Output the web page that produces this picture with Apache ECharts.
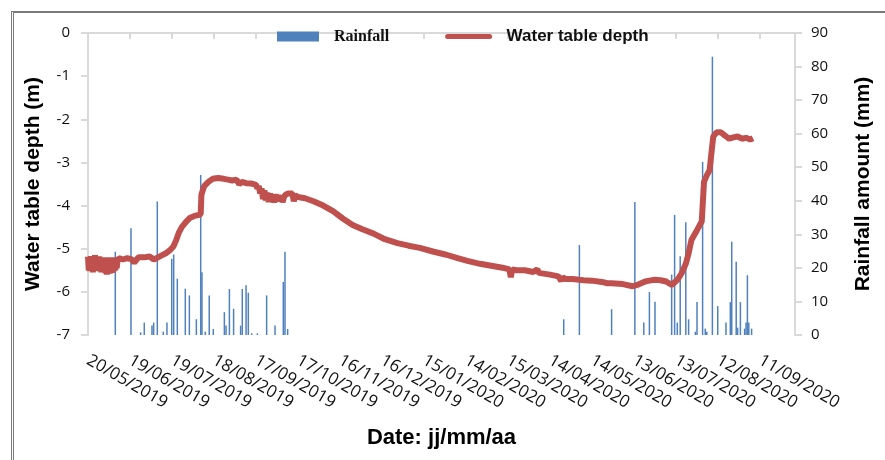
<!DOCTYPE html>
<html>
<head>
<meta charset="utf-8">
<script src="https://cdn.jsdelivr.net/npm/echarts@6/dist/echarts.min.js"></script>
<style>
body{margin:0;background:#fff;}
#frame{position:absolute;left:11px;top:11px;width:900px;height:470px;border-top:2px solid #7a7a7a;border-left:3px double #7a7a7a;}
#chart{position:absolute;left:0;top:0;width:885px;height:460px;}
</style>
</head>
<body>
<div id="frame"></div>
<div id="chart"></div>
<script>
// days counted from 20/05/2019
var tickDays = [0, 30, 60, 90, 120, 150, 180, 210, 240, 270, 300, 330, 360, 390, 420, 450, 480];

// water table depth (m)
var depthDays = [
  0, 0.5, 1, 1.5, 2, 2.5, 3, 3.5, 4, 4.5, 5, 5.5, 6, 6.5, 7, 7.5, 8, 8.5, 9, 9.5,
  10, 10.5, 11, 11.5, 12, 12.5, 13, 13.5, 14, 14.5, 15, 15.5, 16, 16.5, 17, 17.5, 18, 18.5, 19, 19.5,
  20, 20.5, 21, 22, 25, 28, 31, 33, 36, 40, 44, 47, 50, 53, 56, 59, 61, 63, 65, 67, 70, 73, 76, 79, 80.5,
  81, 83, 86, 89, 93, 97, 100, 103, 106, 108, 110, 113, 117, 120, 121, 122, 123, 124, 125, 126, 127, 128,
  129, 130, 131, 132, 133, 134, 135, 136, 137, 138, 139, 140, 141, 143, 146, 147, 148, 150, 155, 161, 168,
  175, 182, 189, 196, 204, 212, 221, 229, 237, 247, 256, 264, 271, 280, 289, 296, 301, 302, 303, 304, 306,
  312, 318, 321, 322, 323, 330, 336, 338, 339, 341, 346, 351, 354, 360, 367, 371, 374, 382, 389, 393,
  398, 401, 405, 409, 413, 417, 421, 424, 427, 429, 431, 435, 438.4, 440, 442, 444, 446.6, 449, 452,
  455, 458, 461, 464, 467, 470, 473, 475
];
var depthValues = [
  -5.18, -5.5, -5.2, -5.52, -5.17, -5.48, -5.22, -5.55, -5.2, -5.5, -5.15, -5.47, -5.2, -5.5, -5.22, -5.52, -5.18, -5.5, -5.2, -5.55,
  -5.22, -5.5, -5.2, -5.55, -5.23, -5.57, -5.2, -5.6, -5.25, -5.55, -5.22, -5.58, -5.2, -5.55, -5.24, -5.56, -5.2, -5.52, -5.22, -5.5,
  -5.2, -5.45, -5.3, -5.22, -5.25, -5.22, -5.24, -5.32, -5.2, -5.2, -5.18, -5.25, -5.2, -5.15, -5.1, -5.02, -4.95, -4.8, -4.62, -4.5, -4.38, -4.28, -4.24, -4.22, -4.2,
  -3.75, -3.55, -3.45, -3.38, -3.36, -3.38, -3.4, -3.42, -3.4, -3.5, -3.45, -3.48, -3.49, -3.52, -3.6, -3.55, -3.72, -3.6, -3.85, -3.65, -3.88, -3.7,
  -3.92, -3.72, -3.9, -3.75, -3.93, -3.74, -3.88, -3.76, -3.9, -3.78, -3.92, -3.8, -3.75, -3.72, -3.72, -3.9, -3.76, -3.8, -3.83, -3.9, -4.0,
  -4.13, -4.3, -4.45, -4.55, -4.65, -4.78, -4.87, -4.93, -4.98, -5.07, -5.14, -5.22, -5.28, -5.35, -5.4, -5.44, -5.48, -5.66, -5.48, -5.45, -5.5,
  -5.5, -5.54, -5.48, -5.56, -5.58, -5.6, -5.64, -5.75, -5.66, -5.7, -5.7, -5.72, -5.73, -5.74, -5.77, -5.8, -5.8, -5.82, -5.87, -5.83,
  -5.76, -5.74, -5.72, -5.73, -5.76, -5.84, -5.72, -5.57, -5.35, -5.11, -4.8, -4.57, -4.37, -3.45, -3.3, -3.18, -2.4, -2.3, -2.3,
  -2.38, -2.45, -2.42, -2.4, -2.45, -2.43, -2.47, -2.44
];

// rainfall (mm)
var rainDays = [
  19.5, 30.7, 37.6, 40.2, 45.7, 46.9, 49.5, 53.8, 56.4, 59.8, 61.2, 63.8, 69.5, 72.4, 77.4, 80.5, 81.4, 83.8,
  86.6, 89.5, 97.4, 98.6, 101, 104, 109, 110.2, 112.9, 114.5, 117, 121, 127.6, 133.6, 139.5, 140.7, 142.6,
  339.8, 351, 374, 390.6, 397, 401, 405, 416.9, 419, 420.9, 423, 427, 429, 433.8, 435, 439, 440.9, 442,
  446, 449.8, 455.7, 458.8, 459.8, 463, 464, 466, 469, 470, 471, 472, 474
];
var rainValues = [
  24.8, 31.8, 0.8, 3.7, 2.8, 3.7, 39.8, 1, 3.7, 22.7, 24, 16.8, 13.8, 11.8, 4.7, 47.7, 18.7, 1,
  11.8, 1.8, 6.8, 2.8, 13.7, 7.8, 2.8, 13.7, 14.8, 12.6, 0.5, 0.5, 11.8, 2.8, 15.8, 24.8, 1.8,
  4.7, 26.8, 7.7, 39.6, 3.7, 12.8, 9.9, 18, 35.8, 3.7, 23.5, 33.6, 4.7, 1, 9.8, 51.6, 1.9, 1,
  82.9, 8.6, 3.7, 9.8, 27.8, 21.8, 2.2, 9.8, 1.9, 3.7, 17.8, 3.7, 1.9
];

var startDate = Date.UTC(2019, 4, 20);
function dayLabel(d) {
  var dt = new Date(startDate + d * 86400000);
  var dd = String(dt.getUTCDate()).padStart(2, '0');
  var mm = String(dt.getUTCMonth() + 1).padStart(2, '0');
  return dd + '/' + mm + '/' + dt.getUTCFullYear();
}

var depthData = depthDays.map(function (d, i) { return [d, depthValues[i]]; });
var rainData = rainDays.map(function (d, i) { return [d, rainValues[i]]; });

var axisGray = '#d9d9d9';
var myChart = echarts.init(document.getElementById('chart'));
var option = {
  animation: false,
  grid: {left: 88, right: 90, top: 33, bottom: 125, containLabel: false},
  legend: {
    left: 272,
    top: 23,
    itemWidth: 42,
    itemHeight: 10,
    itemGap: 56,
    data: [
      {name: 'Rainfall', icon: 'rect'},
      {name: 'Water table depth', itemStyle: {opacity: 0}, lineStyle: {width: 5, cap: 'round'}}
    ],
    formatter: function (name) {
      return name === 'Rainfall' ? '{r|' + name + '}' : '{w|' + name + '}';
    },
    textStyle: {
      rich: {
        r: {fontFamily: 'Liberation Serif', fontWeight: 'bold', fontSize: 16, color: '#111', padding: [0, 0, 0, 10]},
        w: {fontFamily: 'Liberation Sans', fontWeight: 'bold', fontSize: 17, color: '#111', padding: [0, 0, 0, 12]}
      }
    }
  },
  xAxis: {
    type: 'value',
    min: 0,
    max: 505,
    interval: 30,
    name: 'Date: jj/mm/aa',
    nameLocation: 'middle',
    nameGap: 92,
    nameTextStyle: {fontFamily: 'Liberation Sans', fontWeight: 'bold', fontSize: 22, color: '#000'},
    splitLine: {show: false},
    axisLine: {lineStyle: {color: axisGray, width: 2}},
    axisTick: {customValues: tickDays, length: 6, lineStyle: {color: axisGray, width: 2}},
    axisLabel: {
      customValues: tickDays,
      rotate: -30,
      margin: 24,
      fontFamily: 'Open Sans',
      fontSize: 17,
      color: '#111',
      formatter: function (v) { return dayLabel(v); }
    }
  },
  yAxis: [
    {
      type: 'value',
      min: -7,
      max: 0,
      interval: 1,
      name: 'Water table depth (m)',
      nameLocation: 'middle',
      nameRotate: 90,
      nameGap: 44,
      nameTextStyle: {fontFamily: 'Liberation Sans', fontWeight: 'bold', fontSize: 21, color: '#000'},
      splitLine: {show: false},
      axisLine: {show: true, lineStyle: {color: axisGray, width: 2}},
      axisTick: {show: true, length: 7, lineStyle: {color: axisGray, width: 2}},
      axisLabel: {margin: 18, fontFamily: 'Open Sans', fontSize: 15, color: '#111'}
    },
    {
      type: 'value',
      min: 0,
      max: 90,
      interval: 10,
      position: 'right',
      name: 'Rainfall amount (mm)',
      nameLocation: 'middle',
      nameRotate: 90,
      nameGap: 58,
      nameTextStyle: {fontFamily: 'Liberation Sans', fontWeight: 'bold', fontSize: 21, color: '#000'},
      splitLine: {show: false},
      axisLine: {show: true, lineStyle: {color: axisGray, width: 2}},
      axisTick: {show: true, length: 7, lineStyle: {color: axisGray, width: 2}},
      axisLabel: {margin: 16, fontFamily: 'Open Sans', fontSize: 15, color: '#111'}
    }
  ],
  series: [
    {
      name: 'Rainfall',
      type: 'bar',
      yAxisIndex: 1,
      barWidth: 1.5,
      itemStyle: {color: '#4f81bd'},
      data: rainData
    },
    {
      name: 'Water table depth',
      type: 'line',
      yAxisIndex: 0,
      symbol: 'none',
      z: 5,
      lineStyle: {color: '#c0504d', width: 6},
      itemStyle: {color: '#c0504d'},
      data: depthData
    }
  ]
};
myChart.setOption(option);
</script>
</body>
</html>
